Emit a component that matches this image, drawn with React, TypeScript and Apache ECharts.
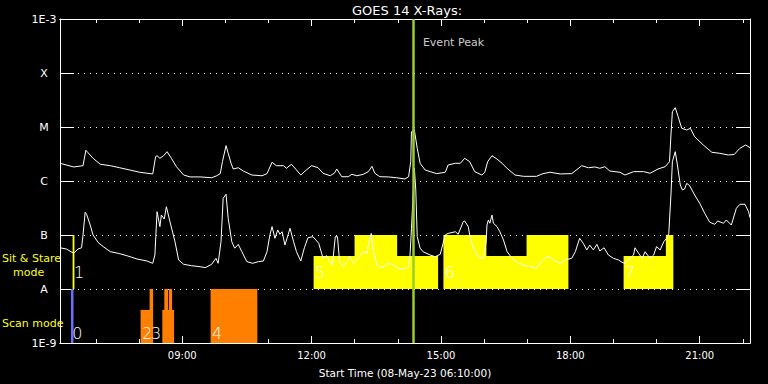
import React, { useEffect, useRef } from "react";
import * as echarts from "echarts";

// Times are minutes since 00:00 on 08-May-2023
const longTimes = [
  370, 389, 402, 406, 416, 426, 440, 453, 467, 481, 499, 503, 505, 509, 514, 519, 525, 532, 542, 551,
  565, 581, 588, 593, 596, 601, 604, 608, 611, 618, 625, 637, 651, 658, 665, 671, 681, 685, 692, 699,
  705, 711, 720, 729, 736, 746, 752, 755, 762, 771, 776, 783, 792, 799, 804, 808, 815, 827, 838, 850,
  855, 858, 859, 863, 867, 871, 878, 885, 894, 906, 910, 920, 927, 933, 940, 947, 957, 961, 965, 971,
  978, 985, 992, 1003, 1015, 1033, 1042, 1052, 1066, 1082, 1096, 1105, 1114, 1121, 1128, 1135, 1149,
  1156, 1168, 1182, 1191, 1202, 1212, 1218, 1220, 1222, 1226, 1230, 1235, 1242, 1247, 1253, 1265, 1277,
  1288, 1300, 1308, 1316, 1324, 1330,
];
const longFlux = [
  2.13e-6, 1.82e-6, 1.92e-6, 3.71e-6, 2.63e-6, 2.04e-6, 1.92e-6, 1.76e-6, 1.6e-6, 1.45e-6, 1.35e-6,
  2.82e-6, 2.94e-6, 2.63e-6, 2.94e-6, 3.49e-6, 2.63e-6, 1.84e-6, 1.29e-6, 1.19e-6,
  1.19e-6, 1.15e-6, 1.25e-6, 1.37e-6, 2.28e-6, 4.51e-6, 3.26e-6, 2.13e-6, 1.67e-6, 1.76e-6, 1.53e-6,
  1.29e-6, 1.25e-6, 1.37e-6, 2.22e-6, 1.92e-6, 1.92e-6, 1.72e-6, 2.04e-6, 1.6e-6,
  1.29e-6, 1.53e-6, 1.92e-6, 1.76e-6, 1.39e-6, 1.25e-6, 1.41e-6, 1.67e-6, 1.2e-6, 1.2e-6, 1.33e-6,
  1.25e-6, 1.33e-6, 1.49e-6, 1.87e-6, 1.39e-6, 1.2e-6, 1.19e-6, 1.15e-6, 1.09e-6,
  1.2e-6, 2.28e-6, 8.2e-6, 8.8e-6, 4.04e-6, 2.13e-6, 1.6e-6, 1.49e-6, 1.37e-6, 1.45e-6, 1.98e-6,
  2.13e-6, 2.13e-6, 2.63e-6, 2.28e-6, 1.49e-6, 1.29e-6, 1.45e-6, 2.28e-6, 2.94e-6,
  2.55e-6, 2.13e-6, 1.72e-6, 1.29e-6, 1.22e-6, 1.22e-6, 1.37e-6, 1.45e-6, 1.35e-6, 1.37e-6, 1.92e-6,
  1.76e-6, 1.82e-6, 1.72e-6, 1.84e-6, 1.53e-6, 1.45e-6,
  1.29e-6, 1.49e-6, 1.49e-6, 1.39e-6, 1.67e-6, 1.84e-6, 2.28e-6, 7.1e-6, 1.92e-5, 2.28e-5, 1.55e-5,
  9.46e-6, 8.8e-6, 9.46e-6, 6.6e-6, 4.64e-6, 3.4e-6,
  3.26e-6, 3.03e-6, 3.1e-6, 4.04e-6, 4.64e-6, 4.14e-6,
];

const shortTimes = [
  370, 379, 389, 395, 400, 402, 405, 407, 412, 416, 423, 430, 440, 451, 463, 477, 491, 499, 502, 505,
  509, 511, 515, 518, 523, 530, 535, 542, 553, 565, 572, 581, 587, 590, 594, 597, 601, 604, 609, 613,
  618, 623, 630, 638, 646, 653, 658, 662, 665, 669, 673, 676, 679, 683, 690, 695, 699, 705, 710, 715,
  722, 730, 736, 741, 744, 749, 753, 756, 759, 764, 769, 773, 778, 785, 792, 797, 800, 803, 806, 811,
  818, 827, 834, 841, 849, 855, 857, 859, 863, 865, 867, 871, 875, 885, 892, 899, 906, 910, 920, 924,
  931, 933, 938, 940, 945, 952, 959, 963, 964, 966, 968, 971, 973, 978, 982, 987, 992, 999, 1008, 1017,
  1026, 1033, 1038, 1045, 1052, 1056, 1066, 1073, 1082, 1087, 1093, 1098, 1103, 1107, 1112, 1117, 1121,
  1127, 1133, 1140, 1147, 1152, 1156, 1163, 1168, 1170, 1175, 1180, 1184, 1191, 1196, 1200, 1205, 1210,
  1214, 1217, 1220, 1222, 1226, 1229, 1233, 1236, 1239, 1242, 1246, 1253, 1260, 1267, 1274, 1281, 1285,
  1293, 1297, 1304, 1311, 1316, 1323, 1328, 1330,
];
const shortFlux = [
  5.8e-8, 5.5e-8, 4.58e-8, 5.5e-8, 5.8e-8, 1.0e-7, 2.63e-7, 2.42e-7, 1.53e-7, 1.0e-7, 7.3e-8, 6.1e-8,
  4.91e-8, 4.58e-8, 4.14e-8, 3.6e-8, 3.3e-8, 2.99e-8, 4.26e-8, 2.7e-7,
  1.43e-7, 2.34e-7, 1.98e-7, 3.34e-7, 1.76e-7, 7.5e-8, 3.45e-8, 2.87e-8, 2.7e-8, 2.59e-8, 2.48e-8,
  2.87e-8, 3.7e-8, 2.99e-8, 7.5e-8, 4.79e-7, 5.68e-7, 2.04e-7, 7.5e-8, 5.7e-8,
  6.7e-8, 4.91e-8, 3.21e-8, 2.99e-8, 3.21e-8, 3.3e-8, 4.91e-8, 1.0e-7, 1.43e-7, 8.7e-8, 1.24e-7,
  1.03e-7, 1.15e-7, 6.5e-8, 1.33e-7, 7.5e-8, 4.91e-8, 3.3e-8, 5.8e-8, 8.9e-8,
  9.3e-8, 7.0e-8, 3.7e-8, 4.14e-8, 3.45e-8, 2.78e-8, 9.3e-8, 9.3e-8, 3.21e-8, 2.59e-8, 3.21e-8,
  3.96e-8, 2.99e-8, 3.7e-8, 4.91e-8, 4.58e-8, 7.5e-8, 1.07e-7, 4.91e-8, 2.78e-8,
  2.48e-8, 2.99e-8, 2.78e-8, 2.42e-8, 2.35e-8, 2.59e-8, 4.26e-8, 1.33e-7, 1.74e-6, 6.81e-7, 9.3e-8,
  5.7e-8, 4.91e-8, 4.26e-8, 3.96e-8, 4.39e-8, 1.0e-7, 1.07e-7, 1.15e-7, 1.03e-7,
  1.76e-7, 1.82e-7, 1.43e-7, 1.0e-7, 5.7e-8, 3.96e-8, 3.7e-8, 7.5e-8, 1.53e-7, 1.9e-7, 1.65e-7,
  2.34e-7, 1.65e-7, 1.43e-7, 1.15e-7, 8.07e-8, 4.91e-8, 3.7e-8, 2.99e-8, 2.7e-8,
  2.59e-8, 2.42e-8, 2.99e-8, 3.8e-8, 3.96e-8, 3.45e-8, 2.99e-8, 3.45e-8, 3.7e-8, 4.91e-8, 8.7e-8,
  7.0e-8, 5.3e-8, 6.5e-8, 5.3e-8, 6.7e-8, 5.06e-8,
  5.8e-8, 4.26e-8, 3.7e-8, 3.45e-8, 3.12e-8, 2.99e-8, 3.7e-8, 4.26e-8, 5.8e-8, 4.58e-8, 3.7e-8,
  4.91e-8, 3.7e-8, 4.26e-8, 6.1e-8, 5.3e-8, 7.5e-8,
  8.7e-8, 1.07e-7, 5.51e-7, 2.28e-6, 3.49e-6, 1.98e-6, 8.43e-7, 6.81e-7, 7.11e-7, 9.05e-7, 8.19e-7,
  5.51e-7, 3.87e-7, 2.52e-7, 1.72e-7, 1.58e-7, 1.82e-7,
  1.65e-7, 1.9e-7, 1.53e-7, 3.12e-7, 3.71e-7, 3.71e-7, 2.7e-7, 2.09e-7,
];

// Sit & Stare mode blocks: [start min, end min, top flux], drawn from class A upward
const sitStareBlocks = [
  [388.1, 389.5, 1e-7],
  [723.4, 780.4, 4.1e-8],
  [780.4, 838.5, 1e-7],
  [838.5, 895.5, 4.1e-8],
  [904, 962.7, 1e-7],
  [962.7, 1019.7, 4.1e-8],
  [1019.7, 1076.8, 1e-7],
  [1154.7, 1213.5, 4.1e-8],
  [1213.5, 1222.8, 1e-7],
];
const sitStareLabels = ["1", "5", "", "", "6", "", "", "7", ""];

// Scan mode blocks: [start min, end min, top flux], drawn from 1E-9 upward
const scanBlocks = [
  [482.7, 495.2, 4.1e-9],
  [495.2, 499, 1e-8],
  [512.9, 515.7, 4.1e-9],
  [515.7, 519.9, 1e-8],
  [519.9, 522.1, 4.1e-9],
  [522.1, 525.4, 1e-8],
  [525.4, 528.2, 4.1e-9],
  [580.1, 644, 1e-8],
];
const scanLabels = ["2", "3", "", "", "", "", "", "4"];
const scanZeroBlocks = [[385.8, 388.2, 1e-8]];
const scanZeroLabels = ["0"];

const eventPeakTime = 861;
const eventPeakLabelFlux = 3.6e-4;

const majorTicks = [540, 720, 900, 1080, 1260];
const majorTickLabels = ["09:00", "12:00", "15:00", "18:00", "21:00"];
const minorTicks = [420, 480, 600, 660, 780, 840, 960, 1020, 1140, 1200, 1320];
const fluxExponents = [-9, -8, -7, -6, -5, -4, -3];
const fluxClassLabels = ["1E-9", "A", "B", "C", "M", "X", "1E-3"];

const FONT = "DejaVu Sans";

function blockSeries(
  blocks: number[][],
  labels: string[],
  bottom: number,
  color: string,
  labelRise: number
) {
  return {
    type: "custom",
    xAxisIndex: 0,
    yAxisIndex: 0,
    z: 1,
    silent: true,
    clip: true,
    encode: { x: [0, 1], y: 2 },
    data: blocks,
    renderItem: (params: any, api: any) => {
      const s = api.value(0);
      const e = api.value(1);
      const top = api.value(2);
      const p0 = api.coord([s, top]);
      const p1 = api.coord([e, bottom]);
      const children: any[] = [
        {
          type: "rect",
          shape: {
            x: p0[0] - 0.4,
            y: p0[1],
            width: Math.max(p1[0] - p0[0], 1) + 0.8,
            height: p1[1] - p0[1],
          },
          style: { fill: color, stroke: null },
        },
      ];
      const lab = labels[params.dataIndex];
      if (lab) {
        children.push({
          type: "text",
          z2: 10,
          x: p0[0] + 1,
          y: p1[1] - labelRise,
          style: {
            text: lab,
            fill: "#ffffff",
            fontSize: 16,
            fontFamily: FONT,
            fontWeight: 200,
            align: "left",
            verticalAlign: "middle",
          },
        });
      }
      return { type: "group", children };
    },
  };
}

export default function App() {
  const ref = useRef<HTMLDivElement>(null);
  useEffect(() => {
    if (!ref.current) return;
    const chart = echarts.init(ref.current, null, { renderer: "svg" });
    const white = "#ffffff";
    const baseX = {
      type: "value",
      min: 370,
      max: 1330,
      splitLine: { show: false },
      axisLine: { show: true, lineStyle: { color: white, width: 1 } },
    };
    const baseY = {
      type: "log",
      logBase: 10,
      min: 1e-9,
      max: 1e-3,
      splitNumber: 6,
      axisLine: { show: true, lineStyle: { color: white, width: 1 } },
      axisTick: { show: true, inside: true, length: 14, lineStyle: { color: white, width: 1 } },
    };
    const option: any = {
      animation: false,
      backgroundColor: "#000000",
      title: {
        text: "GOES 14 X-Rays:",
        left: 347,
        top: -1,
        textStyle: { color: white, fontSize: 13, fontWeight: "normal", fontFamily: FONT },
      },
      grid: { left: 60, right: 18, top: 19, bottom: 41, containLabel: false },
      xAxis: [
        {
          ...baseX,
          position: "bottom",
          axisTick: {
            show: true,
            inside: true,
            length: 7,
            customValues: majorTicks,
            lineStyle: { color: white },
          },
          axisLabel: {
            show: true,
            customValues: majorTicks,
            formatter: (v: number) => {
              const i = majorTicks.indexOf(Math.round(v));
              return i >= 0 ? majorTickLabels[i] : "";
            },
            color: white,
            fontSize: 10,
            fontFamily: FONT,
            margin: 7,
          },
          name: "Start Time (08-May-23 06:10:00)",
          nameLocation: "middle",
          nameGap: 24,
          nameTextStyle: { color: white, fontSize: 10.5, fontFamily: FONT },
        },
        {
          ...baseX,
          position: "bottom",
          axisTick: {
            show: true,
            inside: true,
            length: 4,
            customValues: minorTicks,
            lineStyle: { color: white },
          },
          axisLabel: { show: false },
        },
        {
          ...baseX,
          position: "top",
          axisTick: {
            show: true,
            inside: true,
            length: 7,
            customValues: majorTicks,
            lineStyle: { color: white },
          },
          axisLabel: { show: false },
        },
        {
          ...baseX,
          position: "top",
          axisTick: {
            show: true,
            inside: true,
            length: 4,
            customValues: minorTicks,
            lineStyle: { color: white },
          },
          axisLabel: { show: false },
        },
      ],
      yAxis: [
        {
          ...baseY,
          position: "left",
          splitLine: {
            show: true,
            lineStyle: { color: white, width: 1, type: [1, 5] },
          },
          axisLabel: {
            show: true,
            color: white,
            fontSize: 11,
            fontFamily: FONT,
            align: "center",
            margin: 16,
            formatter: (v: number) => {
              const ex = Math.round(Math.log10(v));
              const i = fluxExponents.indexOf(ex);
              return i >= 0 ? fluxClassLabels[i] : "";
            },
          },
        },
        {
          ...baseY,
          position: "right",
          splitLine: { show: false },
          axisLabel: { show: false },
        },
      ],
      graphic: [
        {
          type: "text",
          x: 2,
          y: 258,
          style: { text: "Sit & Stare", fill: "#ffff00", fontSize: 11, fontFamily: FONT, verticalAlign: "middle" },
        },
        {
          type: "text",
          x: 13,
          y: 272,
          style: { text: "mode", fill: "#ffff00", fontSize: 11, fontFamily: FONT, verticalAlign: "middle" },
        },
        {
          type: "text",
          x: 2,
          y: 323.5,
          style: { text: "Scan mode", fill: "#ffff00", fontSize: 11, fontFamily: FONT, verticalAlign: "middle" },
        },
      ],
      series: [
        blockSeries(sitStareBlocks, sitStareLabels, 1e-8, "#ffff00", 16.5),
        blockSeries(scanBlocks, scanLabels, 1e-9, "#ff8000", 10),
        blockSeries(scanZeroBlocks, scanZeroLabels, 1e-9, "#6f6fff", 10),
        {
          type: "line",
          name: "long",
          xAxisIndex: 0,
          yAxisIndex: 0,
          z: 3,
          showSymbol: false,
          silent: true,
          lineStyle: { color: white, width: 1 },
          data: longTimes.map((t, i) => [t, longFlux[i]]),
        },
        {
          type: "line",
          name: "short",
          xAxisIndex: 0,
          yAxisIndex: 0,
          z: 3,
          showSymbol: false,
          silent: true,
          lineStyle: { color: white, width: 1 },
          data: shortTimes.map((t, i) => [t, shortFlux[i]]),
        },
        {
          type: "scatter",
          xAxisIndex: 0,
          yAxisIndex: 0,
          z: 5,
          silent: true,
          symbolSize: 0,
          data: [[eventPeakTime, eventPeakLabelFlux]],
          label: {
            show: true,
            position: "right",
            distance: 10,
            formatter: "Event Peak",
            color: white,
            fontSize: 11,
            fontFamily: FONT,
          },
          markLine: {
            silent: true,
            symbol: ["none", "none"],
            label: { show: false },
            lineStyle: { color: "#9acd32", width: 2.5, type: "solid" },
            data: [{ xAxis: eventPeakTime }],
          },
        },
      ],
    };
    chart.setOption(option);
    return () => chart.dispose();
  }, []);
  return (
    <div
      ref={ref}
      style={{ position: "fixed", left: 0, top: 0, width: 768, height: 384, background: "#000" }}
    />
  );
}
